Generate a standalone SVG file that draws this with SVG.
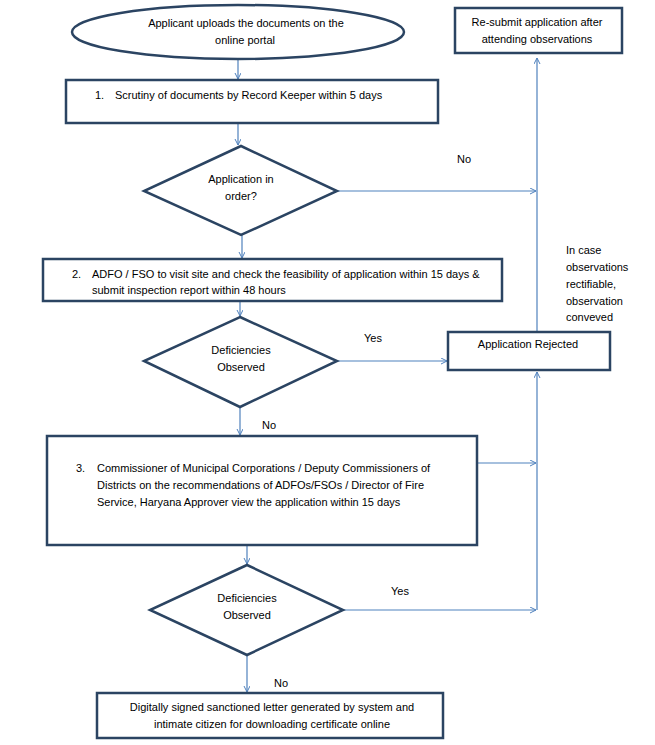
<svg xmlns="http://www.w3.org/2000/svg" width="655" height="745" viewBox="0 0 655 745">
<style>
.shape{fill:#fff;stroke:#2B4462;stroke-width:2.5}
.t{font-family:"Liberation Sans",Arial,sans-serif;font-size:11px;fill:#000}
.c{text-anchor:middle}
.conn{fill:none;stroke:#4F81BD;stroke-width:1.2}
</style>
<defs>
<marker id="ah" markerWidth="8" markerHeight="8" refX="6" refY="3" orient="auto" markerUnits="userSpaceOnUse">
<path d="M0,0 L6,3 L0,6" fill="none" stroke="#4F81BD" stroke-width="1"/>
</marker>
</defs>
<rect width="655" height="745" fill="#fff"/>
<g id="connectors">
<line class="conn" x1="238" y1="60" x2="238" y2="79" marker-end="url(#ah)"/>
<line class="conn" x1="238" y1="123" x2="238" y2="145" marker-end="url(#ah)"/>
<line class="conn" x1="337" y1="191" x2="536" y2="191" marker-end="url(#ah)"/>
<line class="conn" x1="242" y1="235" x2="242" y2="258" marker-end="url(#ah)"/>
<line class="conn" x1="240" y1="302" x2="240" y2="316" marker-end="url(#ah)"/>
<line class="conn" x1="337" y1="361" x2="447" y2="361" marker-end="url(#ah)"/>
<line class="conn" x1="240" y1="407" x2="240" y2="435" marker-end="url(#ah)"/>
<line class="conn" x1="478" y1="463" x2="536" y2="463" marker-end="url(#ah)"/>
<line class="conn" x1="247" y1="546" x2="247" y2="564" marker-end="url(#ah)"/>
<line class="conn" x1="343" y1="610" x2="536" y2="610" marker-end="url(#ah)"/>
<line class="conn" x1="537" y1="610" x2="537" y2="372" marker-end="url(#ah)"/>
<line class="conn" x1="537" y1="331" x2="537" y2="58" marker-end="url(#ah)"/>
<line class="conn" x1="247" y1="655" x2="247" y2="692" marker-end="url(#ah)"/>
</g>
<g id="start">
<ellipse class="shape" cx="238" cy="32" rx="166" ry="27"/>
<text class="t c" x="246" y="27">Applicant uploads the documents on the</text>
<text class="t c" x="245" y="44">online portal</text>
</g>
<g id="step1">
<rect class="shape" x="66" y="80" width="372" height="43"/>
<text class="t" x="95" y="99">1.</text>
<text class="t" x="115" y="99">Scrutiny of documents by Record Keeper within 5 days</text>
</g>
<g id="decision1">
<polygon class="shape" points="241,146 337,191 241,235 144,191"/>
<text class="t c" x="241" y="183">Application in</text>
<text class="t c" x="241" y="200">order?</text>
</g>
<g id="step2">
<rect class="shape" x="43" y="259" width="459" height="42"/>
<text class="t" x="72" y="278">2.</text>
<text class="t" x="92" y="278">ADFO / FSO to visit site and check the feasibility of application within 15 days &amp;</text>
<text class="t" x="92" y="294">submit inspection report  within 48 hours</text>
</g>
<g id="decision2">
<polygon class="shape" points="240,317 337,361 240,407 144,361"/>
<text class="t c" x="241" y="354">Deficiencies</text>
<text class="t c" x="241" y="371">Observed</text>
</g>
<g id="step3">
<rect class="shape" x="47" y="436" width="430" height="109"/>
<text class="t" x="76" y="472">3.</text>
<text class="t" x="97" y="472">Commissioner of Municipal Corporations  / Deputy Commissioners of</text>
<text class="t" x="97" y="489">Districts on the recommendations  of ADFOs/FSOs / Director of Fire</text>
<text class="t" x="97" y="506">Service, Haryana  Approver  view the application within 15 days</text>
</g>
<g id="decision3">
<polygon class="shape" points="247,565 343,610 247,655 150,610"/>
<text class="t c" x="247" y="602">Deficiencies</text>
<text class="t c" x="247" y="619">Observed</text>
</g>
<g id="final">
<rect class="shape" x="97" y="693" width="346" height="45"/>
<text class="t c" x="272" y="711">Digitally signed sanctioned letter generated by system and</text>
<text class="t c" x="272" y="728">intimate citizen for downloading certificate online</text>
</g>
<g id="rejected">
<rect class="shape" x="448" y="332" width="162" height="38"/>
<text class="t c" x="528" y="348">Application Rejected</text>
</g>
<g id="resubmit">
<rect class="shape" x="455" y="8" width="167" height="45"/>
<text class="t c" x="537" y="26">Re-submit application after</text>
<text class="t c" x="537" y="43">attending observations</text>
</g>
<g id="labels">
<text class="t" x="457" y="163">No</text>
<text class="t" x="364" y="342">Yes</text>
<text class="t" x="262" y="429">No</text>
<text class="t" x="391" y="595">Yes</text>
<text class="t" x="274" y="687">No</text>
<text class="t" x="566" y="254">In case</text>
<text class="t" x="566" y="271">observations</text>
<text class="t" x="566" y="288">rectifiable,</text>
<text class="t" x="566" y="305">observation</text>
<text class="t" x="566" y="321">conveved</text>
</g>
</svg>
